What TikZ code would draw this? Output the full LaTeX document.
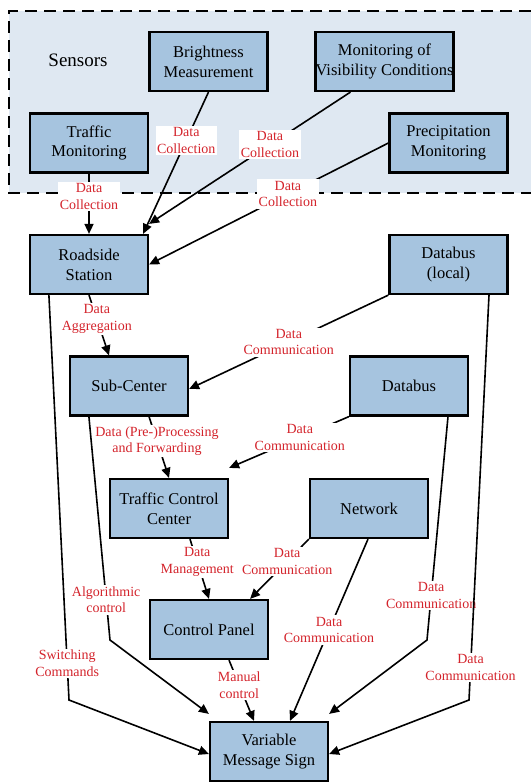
\documentclass[tikz,border=0pt]{standalone}
\usepackage{fontspec}
\setmainfont{Liberation Serif}
\usetikzlibrary{arrows.meta}
\definecolor{boxfill}{RGB}{166,196,223}
\definecolor{sensfill}{RGB}{223,232,242}
\definecolor{lblred}{RGB}{212,36,44}
\tikzset{
  box/.style={draw=black, line width=2.2bp, fill=boxfill, minimum width=118bp, minimum height=59bp,
    inner sep=0pt, align=center, font=\fontsize{16.5bp}{19.8bp}\selectfont},
  lbl/.style={fill=white, text=lblred, inner sep=1.5bp, align=center, font=\fontsize{14bp}{16.8bp}\selectfont},
  conn/.style={draw=black, line width=1.6bp, -{Triangle[length=10bp,width=9bp]}}
}
\begin{document}
\begin{tikzpicture}[x=1bp,y=-1bp]
\useasboundingbox (0,0) rectangle (531,782);
% sensors group
\fill[sensfill] (9,11) rectangle (531,193);
\draw[line width=2bp, dash pattern=on 12bp off 7bp] (531,11) -- (9,11) -- (9,193) -- (531,193);
\node[font=\fontsize{19bp}{22bp}\selectfont] (sens) at (78,60) {Sensors};
% nodes
\node[box] (bright) at (208.5,61.5) {Brightness\\Measurement};
\node[box] (vis) at (384.5,61.5) {Monitoring of\\Visibility Conditions};
\node[box] (traffic) at (89,143) {Traffic\\Monitoring};
\node[box] (precip) at (448.5,143) {Precipitation\\Monitoring};
\node[box] (road) at (89,264.5) {Roadside\\Station};
\node[box] (dbl) at (448.5,264.5) {Databus\\(local)};
\node[box] (sub) at (129,386) {Sub-Center};
\node[box] (db) at (409,386) {Databus};
\node[box] (tcc) at (169,508.5) {Traffic Control\\Center};
\node[box] (net) at (369,508.5) {Network};
\node[box] (cp) at (209,629.5) {Control Panel};
\node[box] (vms) at (269,751.5) {Variable\\Message Sign};
% sensor connectors
\draw[conn] (traffic.south) -- node[lbl,pos=0.38]{Data\\Collection} (road.north);
\draw[conn] (bright.south) -- node[lbl,pos=0.34]{Data\\Collection} ([xshift=-6bp]road.north east);
\draw[conn] ([xshift=36bp]vis.south west) -- node[lbl,pos=0.4]{Data\\Collection} ([yshift=10bp]road.north east);
\draw[conn] (precip.west) -- node[lbl,pos=0.42]{Data\\Collection} (road.east);
% hierarchy
\draw[conn] (road.south) -- node[lbl,pos=0.39]{Data\\Aggregation} ([xshift=-20bp]sub.north);
\draw[conn] (dbl.south west) -- node[lbl,pos=0.5]{Data\\Communication} ([yshift=-3bp]sub.east);
\draw[conn] ([xshift=20bp]sub.south) -- node[lbl,pos=0.4]{Data (Pre-)Processing\\and Forwarding} (tcc.north);
\draw[conn] (db.south west) -- node[lbl,pos=0.41]{Data\\Communication} ([yshift=10bp]tcc.north east);
\draw[conn] ([xshift=21bp]tcc.south) -- node[lbl,pos=0.38]{Data\\Management} (cp.north);
\draw[conn] (net.south west) -- node[lbl,pos=0.37]{Data\\Communication} ([xshift=-19bp]cp.north east);
% to VMS
\coordinate (s1) at (110,640);
\draw[conn] ([xshift=20bp]sub.south west) -- node[lbl,pos=0.82]{Algorithmic\\control} (s1) -- ([yshift=7bp]vms.north west);
\coordinate (r1) at (69,700);
\draw[conn] ([xshift=20bp]road.south west) -- node[lbl,pos=0.91]{Switching\\Commands} (r1) -- ([yshift=-2.5bp]vms.west);
\draw[conn] ([xshift=20bp]cp.south) -- node[lbl,pos=0.41]{Manual\\control} ([xshift=-15bp]vms.north);
\draw[conn] ([xshift=-1bp]net.south) -- node[lbl,pos=0.5]{Data\\Communication} ([xshift=21bp]vms.north);
\coordinate (d1) at (427,640);
\draw[conn] ([xshift=39bp]db.south) -- node[lbl,pos=0.8]{Data\\Communication} (d1) -- ([yshift=7bp]vms.north east);
\coordinate (l1) at (469,700);
\draw[conn] ([xshift=40.5bp]dbl.south) -- node[lbl,pos=0.92]{Data\\Communication} (l1) -- ([yshift=-2.5bp]vms.east);
\end{tikzpicture}
\end{document}
